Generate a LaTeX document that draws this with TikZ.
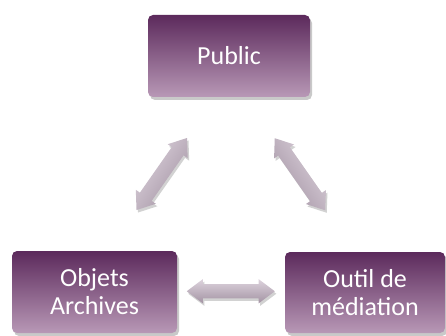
\documentclass[tikz,border=0pt]{standalone}
\usepackage{fontspec}
\setmainfont{Carlito}
\usetikzlibrary{shapes.arrows,shadows,calc}
\definecolor{plumtop}{HTML}{5C2A5C}
\definecolor{plummid}{HTML}{8C628C}
\definecolor{plumbot}{HTML}{B898B6}
\definecolor{arrowlight}{HTML}{DDD3DD}
\definecolor{arrowdark}{HTML}{A393A3}
\begin{document}
\begin{tikzpicture}[x=1pt,y=-1pt,
        box/.style={rectangle, rounded corners=5pt, inner sep=0pt,
            top color=plumtop, middle color=plummid, bottom color=plumbot,
            text=white, align=center, font=\fontsize{26}{28}\selectfont,
            drop shadow={shadow xshift=2pt, shadow yshift=-3pt, opacity=0.3, fill=black!70}},
        link/.style={double arrow, minimum height=88pt, minimum width=24pt,
            double arrow head extend=5pt, double arrow tip angle=74, inner sep=7pt,
            top color=arrowlight, bottom color=arrowdark,
            drop shadow={shadow xshift=1.5pt, shadow yshift=-2.5pt, opacity=0.25, fill=black!70}}]
    \useasboundingbox (0,0) rectangle (446,336);
    %% three boxes
    \node[box, minimum width=162pt, minimum height=82pt] (public) at (229,56) {Public};
    \node[box, minimum width=165pt, minimum height=82pt] (objets) at (94.5,292) {Objets\\Archives};
    \node[box, minimum width=160pt, minimum height=81pt] (outil) at (365,292.5) {Outil de\\médiation};
    %% arrows between them
    \node[link, rotate=55, shading angle=55] (pubobj) at ($(public)!0.5!(objets)$) {};
    \node[link, rotate=-55, shading angle=-55] (pubout) at ($(public)!0.5!(outil)+(3,0)$) {};
    \node[link] (objout) at ($(objets)!0.5!(outil)+(1,-1)$) {};
\end{tikzpicture}
\end{document}
